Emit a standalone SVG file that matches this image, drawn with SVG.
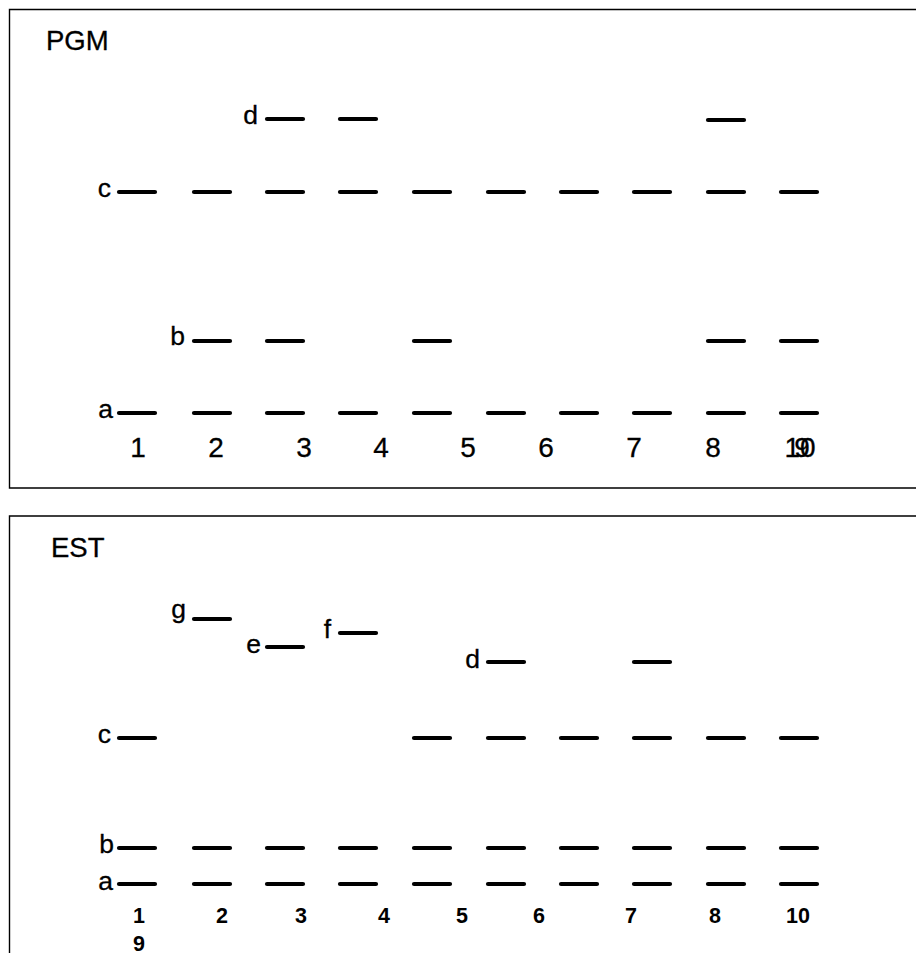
<svg xmlns="http://www.w3.org/2000/svg" width="916" height="953" viewBox="0 0 916 953">
<style>
.frame{fill:none;stroke:#000;stroke-width:1.4}
.band{stroke:#000;stroke-width:4.2;stroke-linecap:round}
.title{font-family:"Liberation Sans",Arial,sans-serif;font-size:27.5px;fill:#000;stroke:#000;stroke-width:0.3}
.lbl{font-family:"Liberation Sans",Arial,sans-serif;font-size:26.5px;fill:#000;stroke:#000;stroke-width:0.3;text-anchor:end}
.num{font-family:"Liberation Sans",Arial,sans-serif;font-size:28px;fill:#000;stroke:#000;stroke-width:0.3;text-anchor:middle}
.num2{font-family:"Liberation Sans",Arial,sans-serif;font-size:21.5px;font-weight:bold;fill:#000;text-anchor:middle}
</style>
<rect width="916" height="953" fill="#fff"/>
<defs>
<line id="b" class="band" x1="2" y1="0" x2="38" y2="0"/>
</defs>
<g id="pgm-panel">
<path class="frame" d="M916,9.5 H9.5 V488 H916"/>
<text class="title" x="46" y="50">PGM</text>
</g>
<g id="pgm-d">
<text class="lbl" x="258" y="124">d</text>
<use href="#b" x="265" y="119"/><use href="#b" x="338" y="119"/><use href="#b" x="706" y="120"/>
</g>
<g id="pgm-c">
<text class="lbl" x="111" y="197">c</text>
<use href="#b" x="117" y="192"/><use href="#b" x="192" y="192"/><use href="#b" x="265" y="192"/><use href="#b" x="338" y="192"/><use href="#b" x="412" y="192"/><use href="#b" x="486" y="192"/><use href="#b" x="559" y="192"/><use href="#b" x="632" y="192"/><use href="#b" x="706" y="192"/><use href="#b" x="779" y="192"/>
</g>
<g id="pgm-b">
<text class="lbl" x="185" y="345">b</text>
<use href="#b" x="192" y="341"/><use href="#b" x="265" y="341"/><use href="#b" x="412" y="341"/><use href="#b" x="706" y="341"/><use href="#b" x="779" y="341"/>
</g>
<g id="pgm-a">
<text class="lbl" x="113" y="418">a</text>
<use href="#b" x="117" y="413"/><use href="#b" x="192" y="413"/><use href="#b" x="265" y="413"/><use href="#b" x="338" y="413"/><use href="#b" x="412" y="413"/><use href="#b" x="486" y="413"/><use href="#b" x="559" y="413"/><use href="#b" x="632" y="413"/><use href="#b" x="706" y="413"/><use href="#b" x="779" y="413"/>
</g>
<g id="pgm-lanes">
<text class="num" x="138" y="457">1</text>
<text class="num" x="216" y="457">2</text>
<text class="num" x="304" y="457">3</text>
<text class="num" x="381" y="457">4</text>
<text class="num" x="468" y="457">5</text>
<text class="num" x="546" y="457">6</text>
<text class="num" x="634" y="457">7</text>
<text class="num" x="713" y="457">8</text>
<text class="num" x="800" y="457">10</text>
<text class="num" x="802" y="457">9</text>
</g>
<g id="est-panel">
<path class="frame" d="M916,516 H9.5 V953"/>
<text class="title" x="51" y="557">EST</text>
</g>
<g id="est-g">
<text class="lbl" x="186" y="618">g</text>
<use href="#b" x="192" y="619"/>
</g>
<g id="est-e">
<text class="lbl" x="261" y="653">e</text>
<use href="#b" x="265" y="647"/>
</g>
<g id="est-f">
<text class="lbl" x="331" y="638">f</text>
<use href="#b" x="338" y="633"/>
</g>
<g id="est-d">
<text class="lbl" x="480" y="668">d</text>
<use href="#b" x="486" y="662"/><use href="#b" x="632" y="662"/>
</g>
<g id="est-c">
<text class="lbl" x="111" y="743">c</text>
<use href="#b" x="117" y="738"/><use href="#b" x="412" y="738"/><use href="#b" x="486" y="738"/><use href="#b" x="559" y="738"/><use href="#b" x="632" y="738"/><use href="#b" x="706" y="738"/><use href="#b" x="779" y="738"/>
</g>
<g id="est-b">
<text class="lbl" x="114" y="853">b</text>
<use href="#b" x="117" y="848"/><use href="#b" x="192" y="848"/><use href="#b" x="265" y="848"/><use href="#b" x="338" y="848"/><use href="#b" x="412" y="848"/><use href="#b" x="486" y="848"/><use href="#b" x="559" y="848"/><use href="#b" x="632" y="848"/><use href="#b" x="706" y="848"/><use href="#b" x="779" y="848"/>
</g>
<g id="est-a">
<text class="lbl" x="113" y="890">a</text>
<use href="#b" x="117" y="884"/><use href="#b" x="192" y="884"/><use href="#b" x="265" y="884"/><use href="#b" x="338" y="884"/><use href="#b" x="412" y="884"/><use href="#b" x="486" y="884"/><use href="#b" x="559" y="884"/><use href="#b" x="632" y="884"/><use href="#b" x="706" y="884"/><use href="#b" x="779" y="884"/>
</g>
<g id="est-lanes">
<text class="num2" x="139" y="923">1</text>
<text class="num2" x="222" y="923">2</text>
<text class="num2" x="301" y="923">3</text>
<text class="num2" x="384" y="923">4</text>
<text class="num2" x="462" y="923">5</text>
<text class="num2" x="539" y="923">6</text>
<text class="num2" x="631" y="923">7</text>
<text class="num2" x="715" y="923">8</text>
<text class="num2" x="798" y="923">10</text>
<text class="num2" x="139" y="951">9</text>
</g>
</svg>
